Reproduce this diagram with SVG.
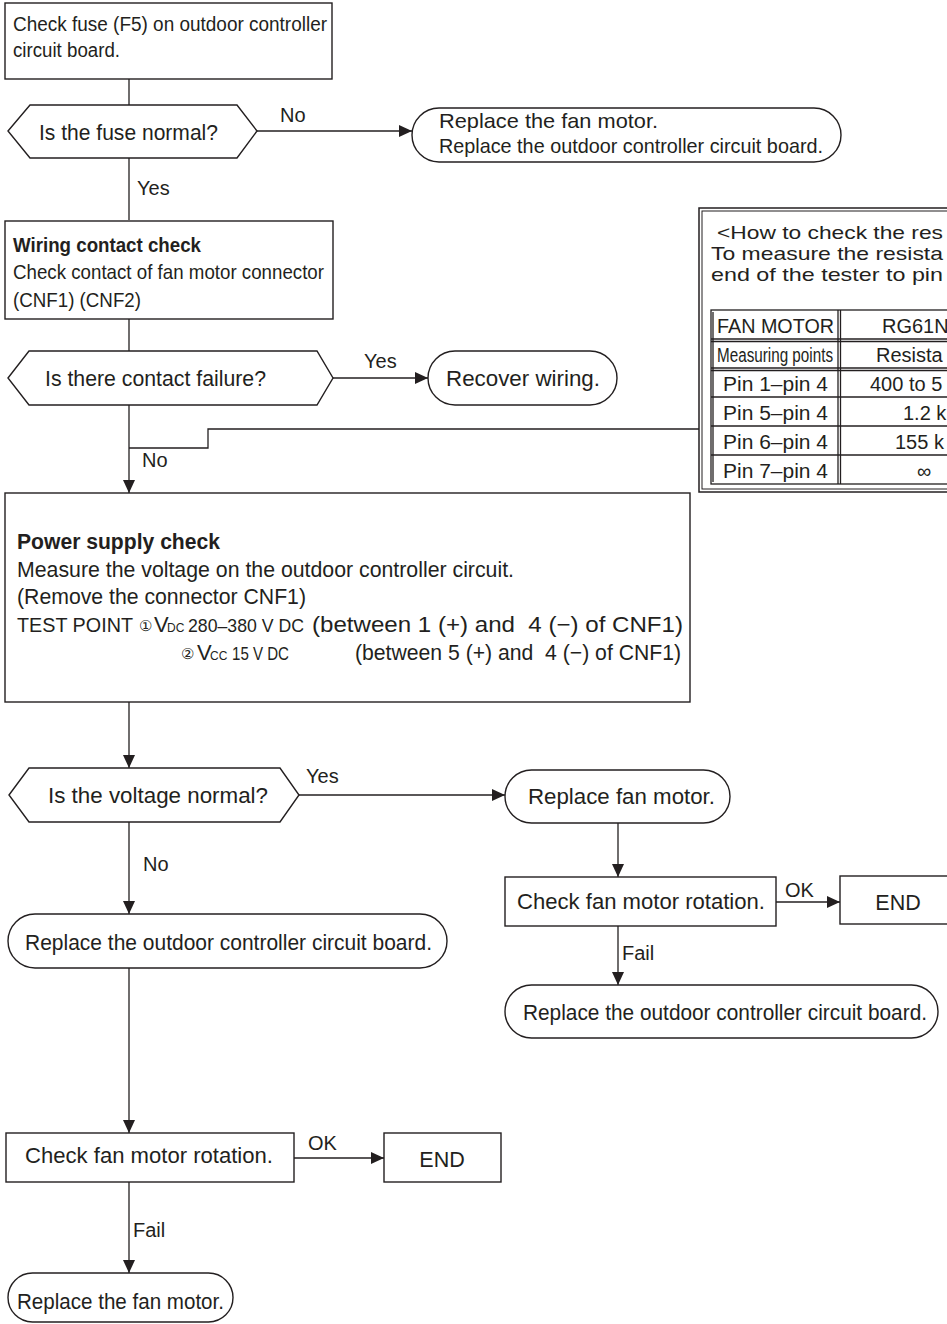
<svg xmlns="http://www.w3.org/2000/svg" width="947" height="1324" viewBox="0 0 947 1324">
<style>
.box{fill:#fff;stroke:#231f20;stroke-width:1.4}
.ln{fill:none;stroke:#231f20;stroke-width:1.3}
.arr{marker-end:url(#ah)}
text{font-family:"Liberation Sans",Arial,sans-serif;fill:#231f20}
.t{font-size:21.5px}
.s{font-size:20px}
.lb{font-size:20px}
.w{font-size:21px}
.b{font-weight:bold}
.tb{font-size:20px}
.hd{font-size:19px}
.p{font-size:22px}
.pre{white-space:pre}
.sub{font-size:12px}
</style>
<defs>
<marker id="ah" markerUnits="userSpaceOnUse" markerWidth="13" markerHeight="12" refX="13" refY="6" orient="auto">
<path d="M0,0 L13,6 L0,12 z" fill="#231f20"/>
</marker>
</defs>
<rect width="947" height="1324" fill="#fff"/>

<g id="connectors">
<line class="ln" x1="129" y1="79" x2="129" y2="105"/>
<line class="ln arr" x1="257" y1="131" x2="412" y2="131"/>
<line class="ln" x1="129" y1="158" x2="129" y2="220"/>
<line class="ln" x1="129" y1="319" x2="129" y2="351"/>
<line class="ln arr" x1="333" y1="378" x2="428" y2="378"/>
<line class="ln arr" x1="129" y1="405" x2="129" y2="493"/>
<polyline class="ln" points="699,429 208,429 208,448 129,448"/>
<line class="ln arr" x1="129" y1="702" x2="129" y2="768"/>
<line class="ln arr" x1="299" y1="795" x2="505" y2="795"/>
<line class="ln arr" x1="129" y1="822" x2="129" y2="914"/>
<line class="ln arr" x1="618" y1="823" x2="618" y2="877"/>
<line class="ln arr" x1="776" y1="902" x2="840" y2="902"/>
<line class="ln arr" x1="618" y1="926" x2="618" y2="985"/>
<line class="ln arr" x1="129" y1="968" x2="129" y2="1133"/>
<line class="ln arr" x1="294" y1="1158" x2="384" y2="1158"/>
<line class="ln arr" x1="129" y1="1182" x2="129" y2="1273"/>
<text class="lb" x="280" y="122">No</text>
<text class="lb" x="137" y="195">Yes</text>
<text class="lb" x="364" y="368">Yes</text>
<text class="lb" x="142" y="467">No</text>
<text class="lb" x="306" y="783">Yes</text>
<text class="lb" x="143" y="871">No</text>
<text class="lb" x="785" y="897">OK</text>
<text class="lb" x="622" y="960">Fail</text>
<text class="lb" x="308" y="1150">OK</text>
<text class="lb" x="133" y="1237">Fail</text>
</g>

<g id="n-check-fuse">
<rect class="box" x="5" y="3" width="327" height="76"/>
<text class="s" x="13" y="31" textLength="314" lengthAdjust="spacingAndGlyphs">Check fuse (F5) on outdoor controller</text>
<text class="s" x="13" y="57" textLength="107" lengthAdjust="spacingAndGlyphs">circuit board.</text>
</g>

<g id="n-fuse-normal">
<polygon class="box" points="8,131 30,105 237,105 257,131 237,158 30,158"/>
<text class="t" x="39" y="140" textLength="179" lengthAdjust="spacingAndGlyphs">Is the fuse normal?</text>
</g>

<g id="n-replace-1">
<rect class="box" x="412" y="108" width="429" height="54" rx="27"/>
<text class="w" x="439" y="128" textLength="219" lengthAdjust="spacingAndGlyphs">Replace the fan motor.</text>
<text class="w" x="439" y="153" textLength="384" lengthAdjust="spacingAndGlyphs">Replace the outdoor controller circuit board.</text>
</g>

<g id="n-wiring">
<rect class="box" x="5" y="221" width="328" height="98"/>
<text class="w b" x="13" y="252" textLength="188" lengthAdjust="spacingAndGlyphs">Wiring contact check</text>
<text class="w" x="13" y="279" textLength="311" lengthAdjust="spacingAndGlyphs">Check contact of fan motor connector</text>
<text class="w" x="13" y="307" textLength="128" lengthAdjust="spacingAndGlyphs">(CNF1) (CNF2)</text>
</g>

<g id="n-contact-failure">
<polygon class="box" points="8,378 29,351 317,351 333,378 317,405 29,405"/>
<text class="t" x="45" y="386" textLength="221" lengthAdjust="spacingAndGlyphs">Is there contact failure?</text>
</g>

<g id="n-recover">
<rect class="box" x="428" y="351" width="189" height="54" rx="27"/>
<text class="t" x="446" y="386" textLength="154" lengthAdjust="spacingAndGlyphs">Recover wiring.</text>
</g>

<g id="n-table">
<rect fill="#fff" stroke="#231f20" stroke-width="1.5" x="699" y="208" width="270" height="284"/>
<rect fill="none" stroke="#231f20" stroke-width="1" x="702" y="211" width="270" height="278"/>
<text class="hd" x="717" y="239" textLength="226" lengthAdjust="spacingAndGlyphs">&lt;How to check the res</text>
<text class="hd" x="711" y="260" textLength="232" lengthAdjust="spacingAndGlyphs">To measure the resista</text>
<text class="hd" x="711" y="281" textLength="232" lengthAdjust="spacingAndGlyphs">end of the tester to pin</text>
<rect fill="none" stroke="#231f20" stroke-width="1.3" x="711" y="310" width="260" height="174"/>
<line class="ln" x1="713" y1="312" x2="713" y2="482" stroke-width="0.8"/>
<line class="ln" x1="838" y1="310" x2="838" y2="484"/>
<line class="ln" x1="840.5" y1="310" x2="840.5" y2="484" stroke-width="0.8"/>
<line class="ln" x1="711" y1="339" x2="947" y2="339"/>
<line class="ln" x1="711" y1="341.5" x2="947" y2="341.5" stroke-width="0.8"/>
<line class="ln" x1="711" y1="368" x2="947" y2="368"/>
<line class="ln" x1="711" y1="370.5" x2="947" y2="370.5" stroke-width="0.8"/>
<line class="ln" x1="711" y1="397" x2="947" y2="397"/>
<line class="ln" x1="711" y1="426" x2="947" y2="426"/>
<line class="ln" x1="711" y1="455" x2="947" y2="455"/>
<text class="tb" x="717" y="333" textLength="117" lengthAdjust="spacingAndGlyphs">FAN MOTOR</text>
<text class="tb" x="717" y="362" textLength="116" lengthAdjust="spacingAndGlyphs">Measuring points</text>
<text class="tb" x="723" y="391" textLength="105" lengthAdjust="spacingAndGlyphs">Pin 1–pin 4</text>
<text class="tb" x="723" y="420" textLength="105" lengthAdjust="spacingAndGlyphs">Pin 5–pin 4</text>
<text class="tb" x="723" y="449" textLength="105" lengthAdjust="spacingAndGlyphs">Pin 6–pin 4</text>
<text class="tb" x="723" y="478" textLength="105" lengthAdjust="spacingAndGlyphs">Pin 7–pin 4</text>
<text class="tb" x="882" y="333">RG61N</text>
<text class="tb" x="876" y="362">Resista</text>
<text class="tb" x="870" y="391">400 to 5</text>
<text class="tb" x="903" y="420">1.2 k</text>
<text class="tb" x="895" y="449">155 k</text>
<text class="tb" x="917" y="478">∞</text>
</g>

<g id="n-power">
<rect class="box" x="5" y="493" width="685" height="209"/>
<text class="p b" x="17" y="549" textLength="203" lengthAdjust="spacingAndGlyphs">Power supply check</text>
<text class="p" x="17" y="577" textLength="497" lengthAdjust="spacingAndGlyphs">Measure the voltage on the outdoor controller circuit.</text>
<text class="p" x="17" y="604" textLength="289" lengthAdjust="spacingAndGlyphs">(Remove the connector CNF1)</text>
<text x="17" y="632" style="font-size:19.5px" textLength="116" lengthAdjust="spacingAndGlyphs">TEST POINT</text>
<text x="139" y="631" style="font-size:14.5px">①</text>
<text class="p" x="154" y="632">V</text>
<text class="sub" x="167" y="632">DC</text>
<text x="188" y="632" style="font-size:18.5px" textLength="116" lengthAdjust="spacingAndGlyphs">280–380 V DC</text>
<text class="p pre" x="312" y="632" textLength="371" lengthAdjust="spacingAndGlyphs">(between 1 (+) and  4 (−) of CNF1)</text>
<text x="181" y="659" style="font-size:14.5px">②</text>
<text class="p" x="197" y="660">V</text>
<text class="sub" x="210" y="660">CC</text>
<text x="232" y="660" style="font-size:19px" textLength="57" lengthAdjust="spacingAndGlyphs">15 V DC</text>
<text class="p pre" x="355" y="660" textLength="326" lengthAdjust="spacingAndGlyphs">(between 5 (+) and  4 (−) of CNF1)</text>
</g>

<g id="n-voltage-normal">
<polygon class="box" points="9,795 29,768 280,768 299,795 280,822 29,822"/>
<text class="t" x="48" y="803" textLength="220" lengthAdjust="spacingAndGlyphs">Is the voltage normal?</text>
</g>

<g id="n-replace-fan">
<rect class="box" x="505" y="770" width="225" height="53" rx="26.5"/>
<text class="t" x="528" y="804" textLength="187" lengthAdjust="spacingAndGlyphs">Replace fan motor.</text>
</g>

<g id="n-replace-board-left">
<rect class="box" x="8" y="914" width="439" height="54" rx="27"/>
<text class="t" x="25" y="950" textLength="407" lengthAdjust="spacingAndGlyphs">Replace the outdoor controller circuit board.</text>
</g>

<g id="n-rotation-right">
<rect class="box" x="505" y="877" width="271" height="49"/>
<text class="t" x="517" y="909" textLength="248" lengthAdjust="spacingAndGlyphs">Check fan motor rotation.</text>
</g>

<g id="n-end-right">
<rect class="box" x="840" y="876" width="117" height="48"/>
<text class="t" x="898" y="910" text-anchor="middle">END</text>
</g>

<g id="n-replace-board-right">
<rect class="box" x="505" y="985" width="433" height="53" rx="26.5"/>
<text class="t" x="523" y="1020" textLength="404" lengthAdjust="spacingAndGlyphs">Replace the outdoor controller circuit board.</text>
</g>

<g id="n-rotation-left">
<rect class="box" x="6" y="1133" width="288" height="49"/>
<text class="t" x="25" y="1163" textLength="248" lengthAdjust="spacingAndGlyphs">Check fan motor rotation.</text>
</g>

<g id="n-end-left">
<rect class="box" x="384" y="1133" width="117" height="49"/>
<text class="t" x="442" y="1167" text-anchor="middle">END</text>
</g>

<g id="n-replace-fan-left">
<rect class="box" x="8" y="1273" width="225" height="49" rx="24.5"/>
<text class="t" x="17" y="1309" textLength="207" lengthAdjust="spacingAndGlyphs">Replace the fan motor.</text>
</g>
</svg>
